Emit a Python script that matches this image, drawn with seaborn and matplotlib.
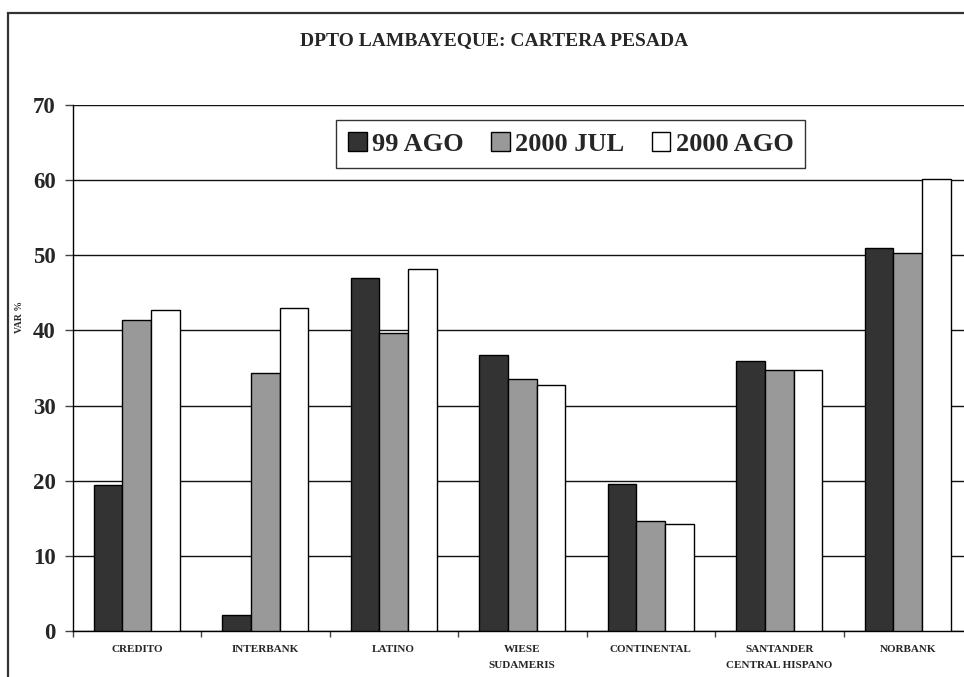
import matplotlib
matplotlib.use("Agg")
import matplotlib.pyplot as plt
import matplotlib.patches as mpatches
from matplotlib.ticker import FixedLocator
import seaborn as sns
import pandas as pd

categories = ["CREDITO", "INTERBANK", "LATINO", "WIESE\nSUDAMERIS", "CONTINENTAL",
              "SANTANDER\nCENTRAL HISPANO", "NORBANK"]
series_names = ["99 AGO", "2000 JUL", "2000 AGO"]
ago99 = [19.4, 2.1, 47.0, 36.7, 19.5, 35.9, 51.0]
jul2000 = [41.4, 34.3, 39.7, 33.6, 14.7, 34.8, 50.3]
ago2000 = [42.7, 43.0, 48.2, 32.8, 14.2, 34.8, 60.1]
yticks = [0, 10, 20, 30, 40, 50, 60, 70]
colors = ["#333333", "#999999", "#ffffff"]

rows = []
for name, vals in zip(series_names, [ago99, jul2000, ago2000]):
    for c, v in zip(categories, vals):
        rows.append({"banco": c, "serie": name, "valor": v})
df = pd.DataFrame(rows)

sns.set_theme(style="white")
plt.rcParams["font.family"] = ["Liberation Serif", "DejaVu Serif"]
plt.rcParams["font.weight"] = "bold"

W, H = 964, 677
fig = plt.figure(figsize=(W / 100, H / 100), dpi=100)
fig.patch.set_facecolor("white")

# outer chart border (right/bottom cropped)
fig.patches.append(mpatches.Rectangle((8 / W, -0.2), 1.5, 1.2 - 13 / H,
                                      transform=fig.transFigure, fill=False,
                                      edgecolor="#333333", linewidth=1.6))

left, right, top, bottom = 72.5, 972, 105, 631
ax = fig.add_axes([left / W, (H - bottom) / H, (right - left) / W, (bottom - top) / H])

sns.barplot(data=df, x="banco", y="valor", hue="serie", order=categories,
            hue_order=series_names, palette=colors, edgecolor="black",
            linewidth=1.0, width=0.67, saturation=1, ax=ax, zorder=3)

ax.set_ylim(0, 70)
ax.set_xlim(-0.5, 6.5)
ax.set_yticks(yticks)
ax.set_yticklabels([str(t) for t in yticks], fontsize=16.5, fontweight="bold")
ax.yaxis.grid(True, color="#111111", linewidth=1.0, zorder=0)
ax.set_axisbelow(True)
ax.xaxis.grid(False)
for s in ["top", "right"]:
    ax.spines[s].set_visible(False)
for s in ["left", "bottom"]:
    ax.spines[s].set_color("black")
    ax.spines[s].set_linewidth(1.0)

ax.tick_params(axis="y", which="major", direction="out", length=6, width=1,
               color="#444444", pad=6, left=True)
ax.tick_params(axis="x", which="major", length=0, pad=10)
ax.xaxis.set_minor_locator(FixedLocator([i - 0.5 for i in range(8)]))
ax.tick_params(axis="x", which="minor", direction="out", length=4, width=1,
               color="#444444", bottom=True)
ax.set_xticks(range(len(categories)))
ax.set_xticklabels(categories, fontsize=8, fontweight="bold", linespacing=2.0,
                   va="top")
ax.set_xlabel("")
ax.set_ylabel("")

fig.text(20 / W, 1 - 317 / H, "VAR %", rotation=90, fontsize=7, fontweight="bold",
         ha="center", va="center")
fig.text(494 / W, 1 - 41 / H, "DPTO LAMBAYEQUE: CARTERA PESADA", fontsize=14,
         fontweight="bold", ha="center", va="center")

handles, labels = ax.get_legend_handles_labels()
leg = ax.legend(handles, labels, loc="center", bbox_to_anchor=(0.554, 0.926),
                ncol=3, frameon=True, fancybox=False, edgecolor="black",
                handlelength=0.7, handleheight=0.7,
                handletextpad=0.2, columnspacing=1.05, borderpad=0.45,
                prop={"weight": "bold", "size": 19})
leg.get_frame().set_linewidth(1.0)
leg.set_zorder(5)

fig.savefig("out.png", dpi=100, facecolor="white")
